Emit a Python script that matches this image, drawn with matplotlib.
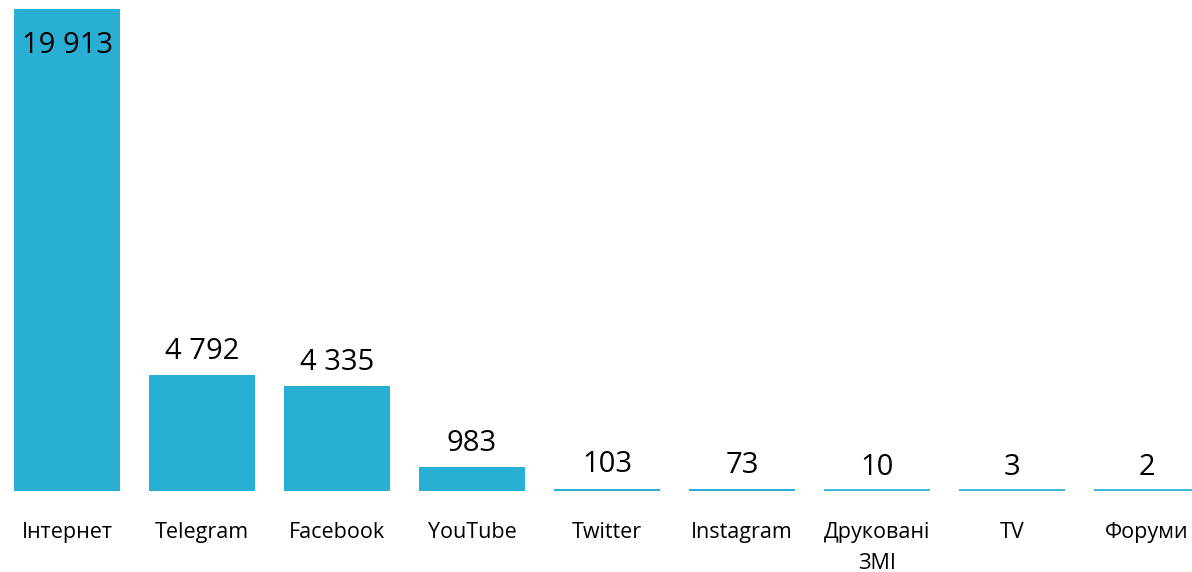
import matplotlib.pyplot as plt

plt.rcParams['font.family'] = ['Open Sans', 'DejaVu Sans']

# Дані
categories = ['Інтернет', 'Telegram', 'Facebook', 'YouTube', 'Twitter',
              'Instagram', 'Друковані\nЗМІ', 'TV', 'Форуми']
values = [19913, 4792, 4335, 983, 103, 73, 10, 3, 2]
value_labels = ['19 913', '4 792', '4 335', '983', '103', '73', '10', '3', '2']

color = '#28AFD3'
bar_w = 0.785

fig = plt.figure(figsize=(11.92, 5.72), dpi=100)
ax = fig.add_axes([0, 0.1416, 1, 0.8427])

x = list(range(len(categories)))
ax.bar(x, values, width=bar_w, color=color)
# тонка лінія під кожним стовпчиком (мінімальна висота)
ax.hlines([0] * len(x), [i - bar_w / 2 for i in x], [i + bar_w / 2 for i in x],
          color=color, linewidth=2.6)

ax.set_xlim(-67 / 135, (1192 - 67) / 135)
ax.set_ylim(0, max(values))

for i, (v, lab) in enumerate(zip(values, value_labels)):
    if v == max(values):
        ax.annotate(lab, (i, v), xytext=(0, -16), textcoords='offset points',
                    ha='center', va='top', fontsize=21, color='black')
    else:
        ax.annotate(lab, (i, v), xytext=(0, 6.5), textcoords='offset points',
                    ha='center', va='bottom', fontsize=21, color='black')

ax.set_xticks(x)
ax.set_xticklabels(categories, fontsize=15.5, linespacing=1.6, va='top')
ax.tick_params(axis='x', length=0, pad=22.5)
ax.set_yticks([])
for s in ax.spines.values():
    s.set_visible(False)

fig.savefig('out.png', dpi=100)
